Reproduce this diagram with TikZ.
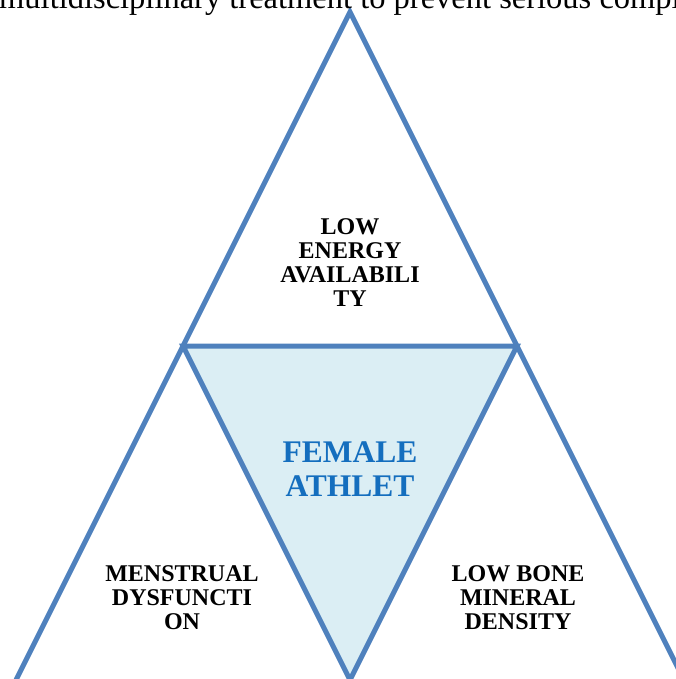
\documentclass[tikz,border=0pt]{standalone}
\usepackage{fontspec}
\setmainfont{Liberation Serif}
\usepackage{xcolor}
\definecolor{edgeblue}{RGB}{79,129,189}
\definecolor{paleblue}{RGB}{219,238,244}
\definecolor{textblue}{RGB}{20,110,190}

\begin{document}
\begin{tikzpicture}[x=1pt, y=-1pt,
    edge/.style={draw=edgeblue, line width=5pt, line join=miter},
    corner text/.style={font=\bfseries\fontsize{24}{24}\selectfont, align=center, inner sep=0pt},
    centre text/.style={font=\bfseries\fontsize{31.5}{34}\selectfont, text=textblue, align=center, inner sep=0pt}]
    \useasboundingbox (0,0) rectangle (676,679);
    \clip (0,0) rectangle (676,679);
        % Define corners
        \coordinate (apex) at (350,12);
        \coordinate (midL) at (183,346);
        \coordinate (midR) at (517,346);
        \coordinate (baseL) at (16,680);
        \coordinate (baseM) at (350,680);
        \coordinate (baseR) at (684,680);

        % Draw triangles
        \fill[paleblue] (midL) -- (midR) -- (baseM) -- cycle;
        \draw[edge] (baseL) -- (apex) -- (baseR);
        \draw[edge] (midL) -- (midR) -- (baseM) -- cycle;

        % Draw labels
        \node (caption) [anchor=base west, inner sep=0pt, font=\fontsize{32.5}{36}\selectfont] at (-1,9) {multidisciplinary treatment to prevent serious compl};
        \node (energy) [corner text] at (350,263) {LOW\\ENERGY\\AVAILABILI\\TY};
        \node (menstrual) [corner text] at (182,598) {MENSTRUAL\\DYSFUNCTI\\ON};
        \node (bone) [corner text] at (518,598) {LOW BONE\\MINERAL\\DENSITY};
        \node (athlete) [centre text] at (350,469) {FEMALE\\ATHLET};
\end{tikzpicture}
\end{document}
